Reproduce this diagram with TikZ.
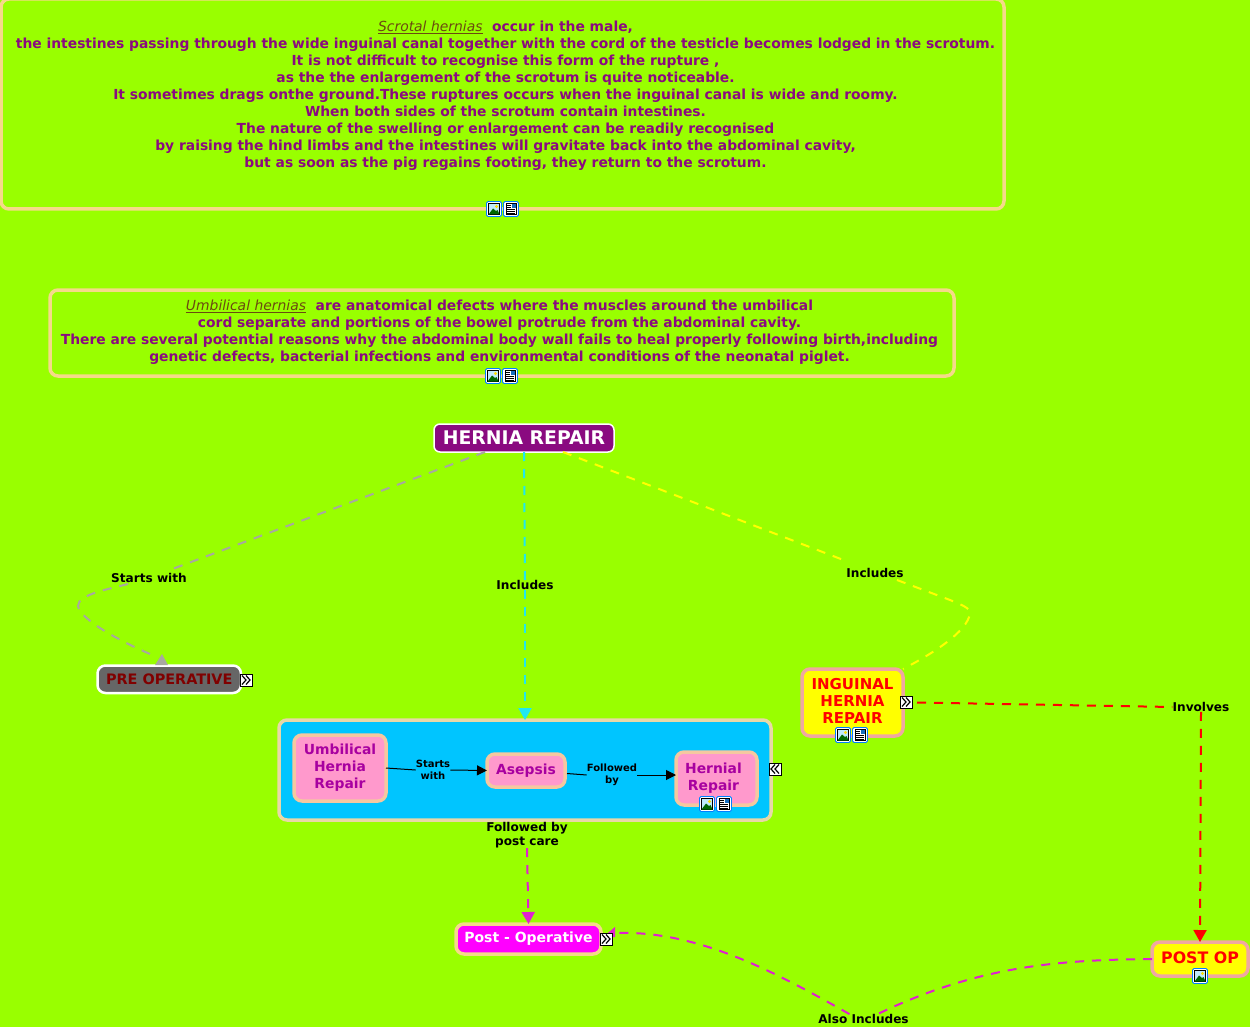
\documentclass[tikz,border=0pt]{standalone}
\usepackage{fontspec}
\setmainfont{DejaVu Sans}
\usetikzlibrary{arrows.meta}
\definecolor{bg}{HTML}{99FF00}
\definecolor{tanb}{HTML}{F5D98A}
\definecolor{txtp}{HTML}{8A0A80}
\definecolor{txtm}{HTML}{A800A0}
\definecolor{peach}{HTML}{F5C8A0}
\definecolor{pinkb}{HTML}{F0A8A0}
\definecolor{pinkf}{HTML}{FF99CC}
\definecolor{cyanf}{HTML}{00C5FF}
\definecolor{conm}{HTML}{E020D0}
\definecolor{cong}{HTML}{A8A8A0}
\definecolor{conc}{HTML}{20E8F0}
\definecolor{italc}{HTML}{6B4A10}
\definecolor{yel}{HTML}{FFFF00}
\definecolor{mag}{HTML}{FF00FF}
\definecolor{grpb}{HTML}{E8D8A8}
\newcommand{\boxn}[6]{%
  \pgfmathsetmacro\bw{#4-#2}\pgfmathsetmacro\bh{#5-#3}%
  \pgfmathsetmacro\cx{(#2+#4)/2}\pgfmathsetmacro\cy{(#3+#5)/2}%
  \node[#6,minimum width=\bw pt,minimum height=\bh pt] (#1) at (\cx,\cy)}
\newcommand{\ul}[1]{\textcolor{italc}{\fontsize{13.9pt}{17pt}\selectfont\itshape\mdseries\underline{#1}}}
\newcommand{\up}[2]{\raisebox{#1pt}{#2}}
\tikzset{
  box/.style={draw,rounded corners=8pt,inner sep=0pt,outer sep=0pt,align=center,font=\bfseries},
  note/.style={box,draw=tanb,fill=bg,line width=3.5pt},
  notetext/.style={text=txtp,align=center,inner sep=0pt,font=\bfseries\fontsize{13.85pt}{17pt}\selectfont,anchor=north},
  inner/.style={box,draw=peach,fill=pinkf,line width=3.5pt,text=txtm,font=\bfseries\fontsize{13.9pt}{17pt}\selectfont},
  lab/.style={inner sep=0pt,align=center,text=black,font=\bfseries\fontsize{12.1pt}{14pt}\selectfont},
  smalllab/.style={inner sep=0pt,align=center,text=black,font=\bfseries\fontsize{10pt}{12.5pt}\selectfont},
  con/.style={dash pattern=on 9pt off 8pt,line width=2pt},
  head/.style={-{Triangle[length=12pt,width=13pt]}},
  blk/.style={line width=1pt,draw=black},
  iconimg/.pic={
    \draw[draw=blue!50!cyan,fill=white,line width=.8pt,rounded corners=1.5pt] (-7.5,-7.5) rectangle (7.5,7.5);
    \draw[fill=cyan!25!white,draw=black,line width=.8pt] (-5.5,-5.5) rectangle (5.5,5.5);
    \fill[green!40!black] (-5.5,5.5) -- (-1,-.5) -- (2,2) -- (3.5,1) -- (5.5,5.5) -- cycle;
    \fill[yellow!80!orange] (2.5,-2.5) circle (1.7);
  },
  icondoc/.pic={
    \draw[draw=blue!50!cyan,fill=white,line width=.8pt,rounded corners=1.5pt] (-7.5,-7.5) rectangle (7.5,7.5);
    \draw[fill=white,draw=black,line width=.8pt] (-5,-5.5) rectangle (5,5.5);
    \fill[cyan!50!blue] (.5,-5) rectangle (4.5,-1);
    \draw[black,line width=.8pt] (-4,-3.5) -- (0,-3.5) (-4,-1.5) -- (0,-1.5) (-4,.5) -- (4,.5) (-4,2.5) -- (4,2.5) (-4,4.3) -- (4,4.3);
  },
  iconexp/.pic={
    \draw[fill=white,draw=black,line width=1pt] (-6,-6) rectangle (6,6);
    \draw[black,line width=1.2pt] (-4,-4.5) -- (0,0) -- (-4,4.5) (0,-4.5) -- (4,0) -- (0,4.5);
  },
  iconcol/.pic={
    \draw[fill=white,draw=black,line width=1pt] (-6,-6) rectangle (6,6);
    \draw[black,line width=1.2pt] (0,-4.5) -- (-4,0) -- (0,4.5) (4,-4.5) -- (0,0) -- (4,4.5);
  }
}
\begin{document}
\begin{tikzpicture}[x=1pt,y=-1pt]
\fill[bg] (0,0) rectangle (1250,1027);
\useasboundingbox (0,0) rectangle (1250,1027);
% notes
\boxn{scrotal}{1}{-1}{1004}{209}{note}{};
\node[notetext] (scrotaltext) at (505.5,20.5) {\ul{Scrotal hernias}\ \ occur in the male,\\
the intestines passing through the wide inguinal canal together with the cord of the testicle becomes lodged in the scrotum.\\
It is not difficult to recognise this form of the rupture ,\\
as the the enlargement of the scrotum is quite noticeable.\\
It sometimes drags onthe ground.These ruptures occurs when the inguinal canal is wide and roomy.\\
When both sides of the scrotum contain intestines.\\
The nature of the swelling or enlargement can be readily recognised\\
by raising the hind limbs and the intestines will gravitate back into the abdominal cavity,\\
but as soon as the pig regains footing, they return to the scrotum.};
\boxn{umbnote}{50}{290}{954}{376}{note}{};
\node[notetext] (umbtext) at (499.5,299.5) {\ul{Umbilical hernias}\ \ are anatomical defects where the muscles around the umbilical\\
cord separate and portions of the bowel protrude from the abdominal cavity.\\
There are several potential reasons why the abdominal body wall fails to heal properly following birth,including\\
genetic defects, bacterial infections and environmental conditions of the neonatal piglet.};
% main nodes
\boxn{hernia}{434}{424}{614}{452}{box,rounded corners=6pt,draw=white,line width=1.5pt,fill=txtp,text=white,font=\bfseries\fontsize{18.8pt}{20pt}\selectfont}{HERNIA REPAIR};
\boxn{pre}{97.5}{665.5}{241}{693}{box,draw=white,fill=black!60,line width=2.5pt,text=red!50!black,font=\bfseries\fontsize{14.4pt}{17pt}\selectfont}{PRE OPERATIVE};
\boxn{group}{279}{720}{771}{820}{box,draw=grpb,fill=cyanf,line width=3.5pt}{};
\boxn{umb}{294}{735}{386}{801}{inner}{\up{-1}{Umbilical}\\\up{-1}{Hernia}\\\up{-1}{Repair}};
\boxn{asep}{487}{754}{565}{787}{inner}{Asepsis};
\boxn{rep}{676}{752}{757}{805}{inner}{\up{2.5}{Hernial}\hspace*{6pt}\\\up{2.5}{Repair}\hspace*{6pt}};
\boxn{ing}{802}{669}{903}{736}{box,draw=pinkb,fill=yel,line width=3.5pt,text=red,font=\bfseries\fontsize{15pt}{16.6pt}\selectfont}{\up{3}{INGUINAL}\\\up{3}{HERNIA}\\\up{3}{REPAIR}};
\boxn{postop}{456}{924}{601}{954}{box,draw=tanb,fill=mag,line width=3.5pt,text=white,font=\bfseries\fontsize{14pt}{17pt}\selectfont}{\up{1}{Post - Operative}};
\boxn{postr}{1152}{942}{1248}{976}{box,draw=pinkb,fill=yel,line width=3.5pt,text=red,font=\bfseries\fontsize{15.8pt}{20pt}\selectfont}{\up{2}{POST OP}};
% labels
\node[lab] (l1) at (149,578) {Starts with};
\node[lab] (l2) at (525,585) {Includes};
\node[lab] (l3) at (875,573) {Includes};
\node[lab] (l4) at (1201,707) {Involves};
\node[lab] (l5) at (527,835) {Followed by\\post care};
\node[lab] (l6) at (863.5,1019) {Also Includes};
\node[smalllab] (l7) at (433,770) {Starts\\with};
\node[smalllab] (l8) at (612,775) {Followed\\by};
% free points
\coordinate (g1) at (167,571);
\coordinate (g2) at (128,584);
\coordinate (y1) at (846,561);
\coordinate (y2) at (897,580);
% connectors
\draw[con,draw=cong] ([xshift=-39pt]hernia.south) -- (g1);
\draw[con,draw=cong] (g2) -- (100,591) .. controls (85,596) and (78,600) .. (78,606) .. controls (80,620) and (125,644) .. (155,656);
\fill[cong] (162,654) -- (168,665) -- (155,665) -- cycle;
\draw[con,draw=conc] (hernia.south) -- (l2.north);
\draw[con,draw=conc,head] (l2.south) -- (group.north);
\draw[con,draw=yel] ([xshift=39pt]hernia.south) -- (y1);
\draw[con,draw=yel] (y2) -- (950,600) .. controls (962,605) and (970,608) .. (970,613) .. controls (968,632) and (930,655) .. (ing.north east);
\draw[con,draw=red] (ing.east) ++(14,0) -- (l4.west);
\draw[con,draw=red,head] (l4.south) -- (postr.north);
\draw[con,draw=conm,head] (l5.south) -- (postop.north);
\draw[con,draw=conm] (postr.west) .. controls (1060,960) and (980,965) .. ([xshift=14pt]l6.north);
\draw[con,draw=conm] ([xshift=-14pt]l6.north) .. controls (780,975) and (700,930) .. (616,933);
\fill[conm] (603,937) -- (615,927) -- (615,937) -- cycle;
\draw[blk] (umb.east) -- (l7.west);
\draw[blk,-{Triangle[length=10pt,width=10pt]}] (l7.east) -- (asep.west);
\draw[blk] (asep.east) ++(2,3) -- (l8.west);
\draw[blk,-{Triangle[length=10pt,width=10pt]}] (l8.east) -- ([yshift=3.5pt]rep.west);
% icons
\path (494,209) pic {iconimg};
\path (511,209) pic {icondoc};
\path (493,376) pic {iconimg};
\path (510,376) pic {icondoc};
\path (707,804) pic {iconimg};
\path (724,804) pic {icondoc};
\path (843,735) pic {iconimg};
\path (860,735) pic {icondoc};
\path (1200,976) pic {iconimg};
\path (246,680) pic {iconexp};
\path (775,769) pic {iconcol};
\path (906,702) pic {iconexp};
\path (606,939) pic {iconexp};
\end{tikzpicture}
\end{document}
